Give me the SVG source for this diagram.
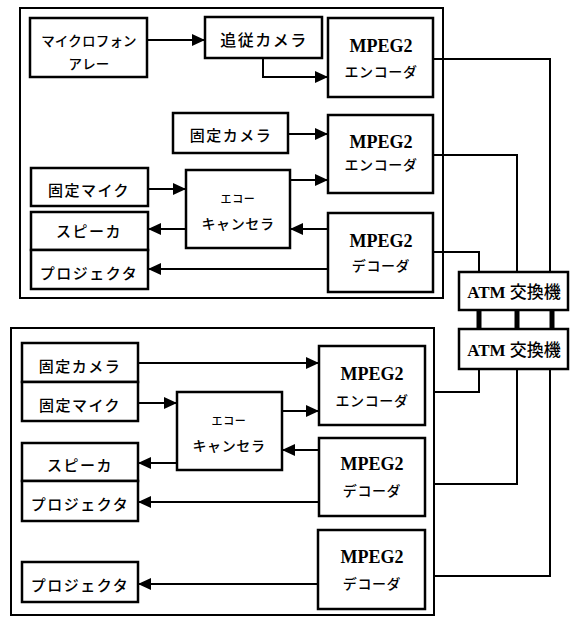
<svg xmlns="http://www.w3.org/2000/svg" width="575" height="617" viewBox="0 0 575 617">
<style>
.panel{fill:none;stroke:#000;stroke-width:2}
.box{fill:#fff;stroke:#000;stroke-width:2.5}
.ln{fill:none;stroke:#000;stroke-width:2}
.thick{fill:none;stroke:#000;stroke-width:5}
.jp{font-family:"Noto Sans CJK JP","Noto Sans",sans-serif;font-weight:500;font-size:15px;letter-spacing:1.5px;fill:#000;text-anchor:middle;dominant-baseline:central}
.jps{font-family:"Noto Sans CJK JP","Noto Sans",sans-serif;font-weight:500;font-size:14px;letter-spacing:0.6px;fill:#000;text-anchor:middle;dominant-baseline:central}
.mp{font-family:"Liberation Serif",serif;font-weight:bold;font-size:18px;fill:#000;text-anchor:middle}
.atm{font-family:"Liberation Serif","Noto Sans CJK JP",serif;font-weight:bold;font-size:17px;fill:#000;text-anchor:middle}
.atmj{font-family:"Noto Sans CJK JP",sans-serif;font-weight:500}
</style>
<defs>
<marker id="ah" markerUnits="userSpaceOnUse" markerWidth="14" markerHeight="12" refX="13" refY="6" orient="auto">
<path d="M0,0 L13,6 L0,12 Z" fill="#000"/>
</marker>
</defs>

<g id="panel-top"><rect class="panel" x="20" y="8" width="423" height="290"/></g>
<g id="panel-bottom"><rect class="panel" x="11" y="328" width="423" height="287"/></g>

<g id="connectors">
<line class="ln" x1="147" y1="40" x2="205" y2="40" marker-end="url(#ah)"/>
<polyline class="ln" points="263,58 263,77 328,77" marker-end="url(#ah)"/>
<line class="ln" x1="288" y1="134" x2="328" y2="134" marker-end="url(#ah)"/>
<line class="ln" x1="290" y1="180" x2="328" y2="180" marker-end="url(#ah)"/>
<line class="ln" x1="148" y1="189" x2="186" y2="189" marker-end="url(#ah)"/>
<line class="ln" x1="186" y1="229" x2="148" y2="229" marker-end="url(#ah)"/>
<line class="ln" x1="328" y1="229" x2="290" y2="229" marker-end="url(#ah)"/>
<line class="ln" x1="328" y1="269" x2="148" y2="269" marker-end="url(#ah)"/>
<polyline class="ln" points="433,59 550,59 550,272"/>
<polyline class="ln" points="433,155 517,155 517,272"/>
<polyline class="ln" points="433,252 479,252 479,272"/>
<line class="thick" x1="479" y1="310" x2="479" y2="329"/>
<line class="thick" x1="517" y1="310" x2="517" y2="329"/>
<line class="thick" x1="552" y1="310" x2="552" y2="329"/>
<polyline class="ln" points="479,369 479,392 434,392"/>
<polyline class="ln" points="517,369 517,484 434,484"/>
<polyline class="ln" points="550,369 550,576 434,576"/>
<line class="ln" x1="138" y1="363" x2="319" y2="363" marker-end="url(#ah)"/>
<line class="ln" x1="138" y1="403" x2="177" y2="403" marker-end="url(#ah)"/>
<line class="ln" x1="282" y1="411" x2="319" y2="411" marker-end="url(#ah)"/>
<line class="ln" x1="319" y1="450" x2="282" y2="450" marker-end="url(#ah)"/>
<line class="ln" x1="177" y1="463" x2="138" y2="463" marker-end="url(#ah)"/>
<line class="ln" x1="319" y1="502" x2="138" y2="502" marker-end="url(#ah)"/>
<line class="ln" x1="318" y1="584" x2="138" y2="584" marker-end="url(#ah)"/>
</g>

<g id="mic-array"><rect class="box" x="30" y="18" width="117" height="59"/>
<text class="jp" x="89" y="40" style="font-size:13.5px;letter-spacing:0.2px">マイクロフォン</text>
<text class="jp" x="89" y="63" style="font-size:13.5px;letter-spacing:0.2px">アレー</text></g>

<g id="tracking-camera"><rect class="box" x="205" y="17" width="117" height="41"/>
<text class="jp" x="264" y="39" style="font-size:16px">追従カメラ</text></g>

<g id="encoder1"><rect class="box" x="328" y="18" width="105" height="79"/>
<text class="mp" x="381" y="52">MPEG2</text>
<text class="jps" x="381" y="71">エンコーダ</text></g>

<g id="fixed-camera1"><rect class="box" x="173" y="113" width="115" height="40"/>
<text class="jp" x="231" y="134">固定カメラ</text></g>

<g id="encoder2"><rect class="box" x="328" y="115" width="105" height="78"/>
<text class="mp" x="381" y="148">MPEG2</text>
<text class="jps" x="381" y="164">エンコーダ</text></g>

<g id="fixed-mic1"><rect class="box" x="31" y="168" width="117" height="38"/>
<text class="jp" x="89" y="189">固定マイク</text></g>

<g id="echo-canceller1"><rect class="box" x="186" y="170" width="104" height="78"/>
<text class="jps" x="238" y="198" style="font-size:11px">エコー</text>
<text class="jps" x="238" y="223">キャンセラ</text></g>

<g id="speaker1"><rect class="box" x="31" y="212" width="117" height="38"/>
<text class="jp" x="89" y="230">スピーカ</text></g>

<g id="projector1"><rect class="box" x="31" y="250" width="117" height="39"/>
<text class="jp" x="89" y="272">プロジェクタ</text></g>

<g id="decoder1"><rect class="box" x="328" y="213" width="105" height="79"/>
<text class="mp" x="381" y="247">MPEG2</text>
<text class="jps" x="381" y="265">デコーダ</text></g>

<g id="atm1"><rect class="box" x="459" y="272" width="109" height="38"/>
<text class="atm" x="514" y="298">ATM <tspan class="atmj">交換機</tspan></text></g>

<g id="atm2"><rect class="box" x="459" y="329" width="109" height="40"/>
<text class="atm" x="514" y="356">ATM <tspan class="atmj">交換機</tspan></text></g>

<g id="fixed-camera2"><rect class="box" x="22" y="343" width="116" height="39"/>
<text class="jp" x="80" y="365">固定カメラ</text></g>

<g id="fixed-mic2"><rect class="box" x="22" y="382" width="116" height="39"/>
<text class="jp" x="80" y="404">固定マイク</text></g>

<g id="echo-canceller2"><rect class="box" x="177" y="392" width="105" height="78"/>
<text class="jps" x="229" y="420" style="font-size:11px">エコー</text>
<text class="jps" x="229" y="445">キャンセラ</text></g>

<g id="encoder3"><rect class="box" x="319" y="346" width="106" height="79"/>
<text class="mp" x="372" y="380">MPEG2</text>
<text class="jps" x="372" y="400">エンコーダ</text></g>

<g id="speaker2"><rect class="box" x="22" y="443" width="116" height="38"/>
<text class="jp" x="80" y="464">スピーカ</text></g>

<g id="projector2"><rect class="box" x="22" y="481" width="116" height="40"/>
<text class="jp" x="80" y="503">プロジェクタ</text></g>

<g id="decoder2"><rect class="box" x="319" y="438" width="106" height="78"/>
<text class="mp" x="372" y="470">MPEG2</text>
<text class="jps" x="372" y="490">デコーダ</text></g>

<g id="projector3"><rect class="box" x="22" y="562" width="116" height="40"/>
<text class="jp" x="80" y="584">プロジェクタ</text></g>

<g id="decoder3"><rect class="box" x="318" y="530" width="107" height="79"/>
<text class="mp" x="372" y="563">MPEG2</text>
<text class="jps" x="372" y="583">デコーダ</text></g>
</svg>
